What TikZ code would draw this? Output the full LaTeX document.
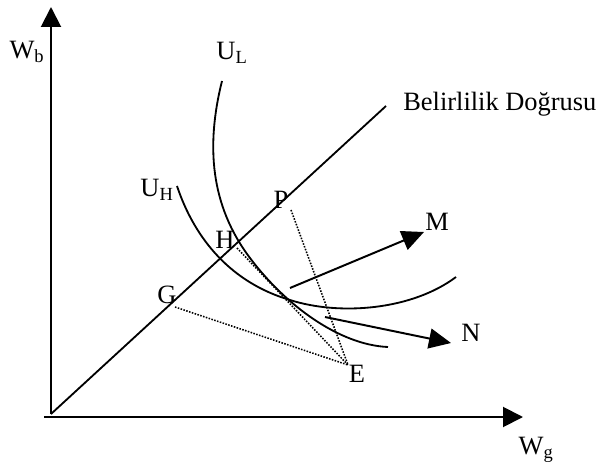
\documentclass[tikz,border=0pt]{standalone}
\usepackage{fontspec}
\setmainfont{Liberation Serif}
\usetikzlibrary{arrows.meta}

\tikzset{
  lbl/.style={font=\fontsize{18.8}{22}\selectfont, inner sep=0pt},
  axis/.style={line width=1.4pt, -{Triangle[length=0.5cm,width=0.5cm]}},
  curve/.style={line width=1.3pt},
  dots/.style={line width=1.1pt, densely dotted},
  move/.style={line width=1.4pt, -{Triangle[length=0.55cm,width=0.5cm]}}
}

\begin{document}
\begin{tikzpicture}[x=0.025cm,y=-0.025cm]
            \useasboundingbox (0,0) rectangle (598,464);

            % Axes
            \coordinate (o) at (51,414);
            \coordinate (wbtip) at (51,7);
            \coordinate (wgstart) at (44,417);
            \coordinate (wgtip) at (523,417);
            \draw[axis] (o) -- (wbtip);
            \draw[axis] (wgstart) -- (wgtip);
            \node[lbl] (wb) at (27,52) {W\textsubscript{b}};
            \node[lbl] (wg) at (536,450) {W\textsubscript{g}};

            % Certainty line
            \coordinate (cend) at (386,106);
            \draw[curve] (o) -- (cend);
            \node[lbl, anchor=west] (cert) at (403,104) {Belirlilik Doğrusu};

            % Indifference curves
            \draw[curve] (222,81) .. controls (206,145) and (210,205) .. (250,258)
                .. controls (286,306) and (340,345) .. (388,347);
            \node[lbl] (ul) at (232,53) {U\textsubscript{L}};
            \draw[curve] (177,186) .. controls (195,240) and (232,283) .. (290,300)
                .. controls (340,316) and (412,310) .. (456,277);
            \node[lbl] (uh) at (157,190) {U\textsubscript{H}};

            % Points
            \node[lbl] (hl) at (225,240) {H};
            \node[lbl] (pl) at (281,200) {P};
            \node[lbl] (gl) at (167,295) {G};
            \node[lbl] (el) at (357,374) {E};
            \coordinate (h) at (237,248);
            \coordinate (p) at (291,210);
            \coordinate (g) at (175,307);
            \coordinate (e) at (348,365);
            \draw[dots] (g) -- (e);
            \draw[dots] (h) -- (e);
            \draw[dots] (p) -- (e);

            % Shifts
            \coordinate (ms) at (290,288);
            \coordinate (mt) at (424,232);
            \coordinate (ns) at (325,317);
            \coordinate (nt) at (451,343);
            \draw[move] (ms) -- (mt);
            \draw[move] (ns) -- (nt);
            \node[lbl] (m) at (437,222) {M};
            \node[lbl] (n) at (471,333) {N};
        \end{tikzpicture}
\end{document}
